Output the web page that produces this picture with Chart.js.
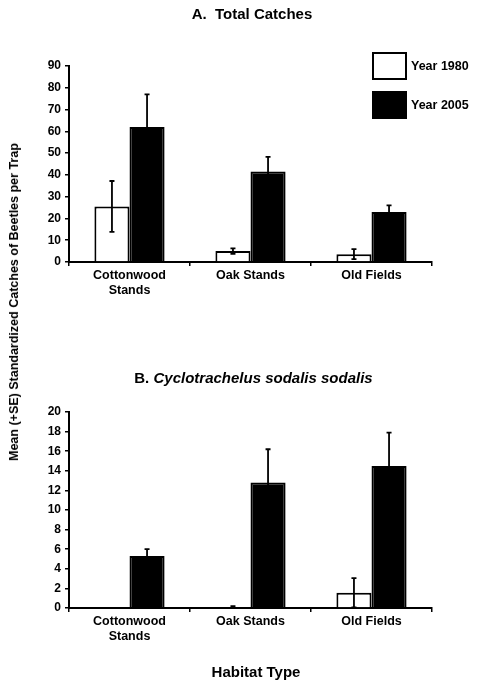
<!DOCTYPE html>
<html>
<head>
<meta charset="utf-8">
<script src="https://cdn.jsdelivr.net/npm/chart.js@4"></script>
<style>
  body { margin: 0; background: #fff; font-family: Arial, "Liberation Sans", sans-serif; }
  #wrap { position: relative; width: 484px; height: 685px; overflow: hidden; }
  canvas { position: absolute; left: 0; }
  .txt { position: absolute; font-weight: bold; color: #000; white-space: nowrap; }
</style>
</head>
<body>
<div id="wrap">
  <canvas id="chartA" width="484" height="340" style="top:0"></canvas>
  <canvas id="chartB" width="484" height="345" style="top:340px"></canvas>
  <div class="txt" style="left:0;width:504px;top:5px;text-align:center;font-size:15px">A.&nbsp; Total Catches</div>
  <div class="txt" style="left:0;width:507px;top:369px;text-align:center;font-size:15px">B. <i>Cyclotrachelus sodalis sodalis</i></div>
  <div class="txt" style="left:0;width:512px;top:663px;text-align:center;font-size:15px">Habitat Type</div>
  <div class="txt" style="left:14px;top:302px;font-size:12.5px;transform:translate(-50%,-50%) rotate(-90deg)">Mean (+SE) Standardized Catches of Beetles per Trap</div>
</div>
<script>
// categories and series
const habitats = [['Cottonwood', 'Stands'], 'Oak Stands', 'Old Fields'];
const seriesNames = ['Year 1980', 'Year 2005'];

// A. total catches
const totals1980 = [25.5, 5, 3.6];
const totals1980SE = [11.7, 1.3, 2.3];
const totals2005 = [62, 41.5, 23];
const totals2005SE = [15, 6.8, 3];

// B. Cyclotrachelus sodalis sodalis
const cyclo1980 = [0, 0.1, 1.55];
const cyclo1980SE = [0, 0.1, 1.5];
const cyclo2005 = [5.3, 12.8, 14.5];
const cyclo2005SE = [0.7, 3.4, 3.4];

const tickFont = { family: 'Arial', size: 12, weight: 'bold' };
const catFont = { family: 'Arial', size: 12.5, weight: 'bold' };

// draws +/- SE bars on top of each bar
const errorBars = {
    id: 'errorBars',
    afterDatasetsDraw(chart) {
        const ctx = chart.ctx;
        const y = chart.scales.y;
        ctx.save();
        ctx.strokeStyle = '#000';
        ctx.lineWidth = 1.8;
        chart.data.datasets.forEach((ds, i) => {
            const meta = chart.getDatasetMeta(i);
            meta.data.forEach((bar, j) => {
                const se = ds.errors[j];
                if (!se) return;
                const v = ds.data[j];
                const top = y.getPixelForValue(v + se);
                const bot = y.getPixelForValue(Math.max(0, v - se));
                ctx.beginPath();
                ctx.moveTo(bar.x, top);
                ctx.lineTo(bar.x, bot);
                ctx.moveTo(bar.x - 2.5, top);
                ctx.lineTo(bar.x + 2.5, top);
                ctx.moveTo(bar.x - 2.5, bot);
                ctx.lineTo(bar.x + 2.5, bot);
                ctx.stroke();
            });
        });
        ctx.restore();
    }
};

// legend boxes at the top right of panel A
const boxLegend = {
    id: 'boxLegend',
    afterDraw(chart, args, opts) {
        if (!opts.show) return;
        const ctx = chart.ctx;
        ctx.save();
        ctx.font = 'bold 12.5px Arial';
        ctx.textBaseline = 'middle';
        chart.data.datasets.forEach((ds, i) => {
            const top = opts.y + i * opts.gap;
            ctx.fillStyle = ds.backgroundColor;
            ctx.fillRect(opts.x, top, opts.w, opts.h);
            ctx.strokeStyle = '#000';
            ctx.lineWidth = 2;
            ctx.strokeRect(opts.x, top, opts.w, opts.h);
            ctx.fillStyle = '#000';
            ctx.fillText(ds.label, opts.x + opts.w + 5, top + opts.h / 2 + 1);
        });
        ctx.restore();
    }
};

function makeChart(id, d1980, e1980, d2005, e2005, yMax, step, padTop, padBottom, showLegend) {
    const ctx = document.getElementById(id).getContext('2d');
    return new Chart(ctx, {
        type: 'bar',
        data: {
            labels: habitats,
            datasets: [{
                label: seriesNames[0],
                data: d1980,
                errors: e1980,
                backgroundColor: '#ffffff',
                borderColor: '#000000',
                borderWidth: 2
            }, {
                label: seriesNames[1],
                data: d2005,
                errors: e2005,
                backgroundColor: '#000000',
                borderColor: '#000000',
                borderWidth: 2
            }]
        },
        options: {
            responsive: false,
            animation: false,
            categoryPercentage: 0.58,
            barPercentage: 1,
            layout: { padding: { top: padTop, bottom: padBottom, left: 29, right: 52 } },
            plugins: {
                legend: { display: false },
                tooltip: { enabled: false },
                boxLegend: { show: showLegend, x: 373, y: 53, w: 33, h: 26, gap: 39 }
            },
            scales: {
                x: {
                    afterFit: s => { s.height = 40; },
                    border: { display: true, color: '#000', width: 2 },
                    grid: { display: true, drawOnChartArea: false, drawTicks: true, tickLength: 4, color: '#000', lineWidth: 1.5 },
                    ticks: { color: '#000', font: catFont, padding: 2, maxRotation: 0, autoSkip: false }
                },
                y: {
                    min: 0,
                    max: yMax,
                    afterFit: s => { s.width = 40; },
                    border: { display: true, color: '#000', width: 2 },
                    grid: { display: true, drawOnChartArea: false, drawTicks: true, tickLength: 4, color: '#000', lineWidth: 1.5 },
                    ticks: { stepSize: step, color: '#000', font: tickFont, padding: 4 }
                }
            }
        },
        plugins: [errorBars, boxLegend]
    });
}

makeChart('chartA', totals1980, totals1980SE, totals2005, totals2005SE, 90, 10, 66, 38, true);
makeChart('chartB', cyclo1980, cyclo1980SE, cyclo2005, cyclo2005SE, 20, 2, 72, 37, false);
</script>
</body>
</html>
